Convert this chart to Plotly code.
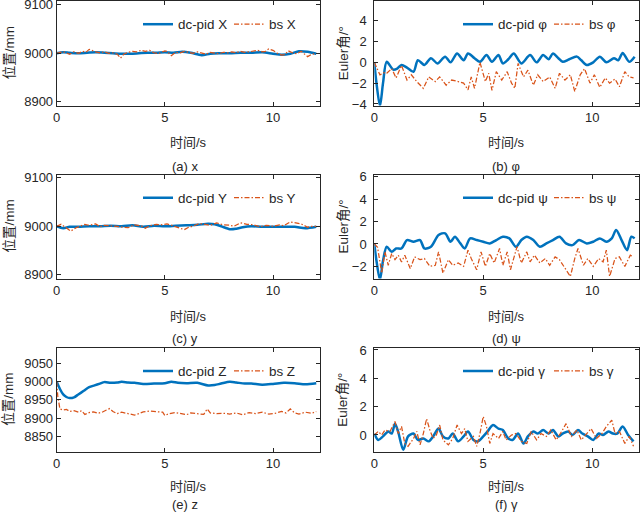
import plotly.graph_objects as go

# ---------------- data ----------------
# (a) x position
t_pid_x = [0, 0.3, 0.6, 1.0, 1.4, 1.8, 2.2, 2.6, 3.0, 3.4, 3.8, 4.2, 4.6, 5.0, 5.4, 5.8, 6.2, 6.7, 7.1, 7.5,
           8.0, 8.5, 9.0, 9.5, 10.0, 10.4, 10.8, 11.2, 11.6, 12.0]
pid_x = [9000, 9002, 9001, 9000, 9001, 9002, 9001, 9000, 8999, 8999, 9000, 9001, 9001, 9002, 9001, 9003, 9001,
         8996, 8999, 9000, 9000, 9001, 9001, 9002, 8999, 8997, 8999, 9004, 9003, 8999]
t_bs_x = [0, 0.3, 0.6, 0.8, 1.0, 1.2, 1.35, 1.5, 1.8, 2.0, 2.2, 2.4, 2.6, 2.8, 2.95, 3.1, 3.3, 3.5, 3.7, 3.9,
          4.1, 4.3, 4.5, 4.7, 4.9, 5.0, 5.1, 5.3, 5.5, 5.7, 5.9, 6.1, 6.3, 6.5, 6.7, 6.9, 7.1, 7.3, 7.5, 7.7,
          7.9, 8.1, 8.3, 8.5, 8.7, 8.9, 9.1, 9.3, 9.5, 9.65, 9.8, 10.0, 10.2, 10.4, 10.55, 10.7, 10.9, 11.1,
          11.3, 11.45, 11.6, 11.8, 12.0]
bs_x = [9000, 9003, 8998, 9003, 9000, 9004, 9002, 9008, 9003, 9001, 9003, 9000, 9001, 8998, 8990, 8998, 9002,
        9004, 9003, 9006, 9004, 9006, 9001, 8999, 9003, 9005, 9004, 8995, 9002, 9001, 9004, 9002, 9000, 9003,
        9000, 8998, 9002, 9001, 8999, 9002, 9001, 9003, 9001, 9004, 9002, 9003, 9004, 9006, 9003, 9004, 9009,
        9006, 9000, 8996, 8997, 9005, 9001, 8999, 9004, 8998, 8993, 8998, 8999]

# (b) phi
t_pid_phi = [0, 0.1, 0.26, 0.4, 0.57, 0.87, 1.05, 1.25, 1.5, 1.8, 2.0, 2.3, 2.6, 2.9, 3.25, 3.5, 3.8, 4.1, 4.3,
             4.6, 4.85, 5.15, 5.4, 5.7, 5.9, 6.15, 6.4, 6.75, 7.15, 7.45, 7.75, 8.0, 8.2, 8.45, 8.65, 8.95,
             9.3, 9.5, 9.75, 10.05, 10.35, 10.65, 11.0, 11.2, 11.4, 11.7, 11.95]
pid_phi = [0, -2.0, -4.2, -2.0, 0.05, -0.7, -0.6, -0.25, -0.5, -0.9, 0.2, -0.25, 0.4, -0.1, 0.55, 0.0, 0.85,
           0.2, 0.85, 0.4, 0.05, 0.7, 0.05, 0.7, -0.1, 0.3, 0.85, -0.1, 0.7, 0.0, 0.7, 0.3, 0.85, 0.4, 0.05,
           0.3, 0.55, 0.2, -0.25, 0.0, 0.55, 0.0, 0.4, 0.2, 0.9, 0.05, 0.55]
t_bs_phi = [0, 0.26, 0.45, 0.57, 0.8, 1.0, 1.25, 1.5, 1.7, 1.95, 2.25, 2.5, 2.8, 3.0, 3.3, 3.55, 3.85, 4.1, 4.3,
            4.45, 4.6, 4.85, 5.1, 5.25, 5.4, 5.6, 5.85, 6.1, 6.3, 6.45, 6.6, 6.85, 7.05, 7.3, 7.5, 7.75, 8.05,
            8.3, 8.5, 8.75, 9.0, 9.2, 9.45, 9.65, 9.9, 10.1, 10.35, 10.6, 10.8, 11.05, 11.25, 11.5, 11.7, 11.9]
bs_phi = [0, -1.2, -1.0, -1.05, -0.6, -1.5, -0.3, -1.7, -1.2, -1.85, -2.5, -1.4, -1.85, -1.4, -2.2, -1.7,
          -1.85, -2.0, -2.65, -1.4, -2.5, 0.0, -1.85, -1.05, -2.7, -0.9, -1.7, -0.9, -2.0, -2.5, -0.1, -1.4,
          -0.75, -2.2, -1.2, -1.85, -1.4, -2.5, -1.05, -1.7, -1.2, -2.8, -1.2, -0.6, -2.0, -1.2, -2.4, -1.5,
          -2.0, -1.6, -2.35, -0.9, -1.4, -1.5]

# (c) y position
t_pid_y = [0, 0.3, 0.6, 1.0, 1.5, 2.0, 2.5, 3.0, 3.5, 4.0, 4.5, 5.0, 5.5, 6.0, 6.5, 7.0, 7.3, 7.6, 8.0, 8.3,
           8.6, 9.0, 9.5, 10.0, 10.5, 11.0, 11.5, 12.0]
pid_y = [9000, 8996, 8999, 8999, 9000, 9000, 9001, 9000, 9002, 8999, 9001, 9000, 9001, 9002, 9003, 9005, 9004,
         9000, 8994, 8995, 8998, 9000, 8999, 8999, 8999, 8999, 8996, 8999]
t_bs_y = [0, 0.2, 0.4, 0.65, 0.9, 1.1, 1.3, 1.5, 1.8, 2.0, 2.2, 2.5, 2.8, 3.0, 3.3, 3.6, 3.9, 4.1, 4.3, 4.6,
          4.9, 5.1, 5.3, 5.6, 5.9, 6.1, 6.3, 6.6, 6.9, 7.1, 7.4, 7.7, 8.0, 8.2, 8.5, 8.8, 9.1, 9.4, 9.7, 10.0,
          10.3, 10.5, 10.8, 11.0, 11.3, 11.6, 11.8, 12.0]
bs_y = [9000, 9004, 8998, 8990, 8997, 9001, 9004, 9002, 9005, 8999, 9002, 9001, 9000, 8998, 8997, 9003, 9001,
        8996, 9001, 9004, 9003, 9005, 9002, 8996, 8993, 8998, 9000, 9006, 9003, 9002, 9007, 9003, 9002, 9000,
        9007, 9004, 9003, 8999, 9002, 9000, 9003, 9001, 9009, 9008, 9005, 8998, 9000, 9000]

# (d) psi
t_pid_psi = [0, 0.1, 0.26, 0.4, 0.57, 0.8, 1.0, 1.25, 1.5, 1.8, 2.1, 2.3, 2.6, 2.95, 3.25, 3.5, 3.7, 3.95, 4.15,
             4.4, 4.7, 5.0, 5.3, 5.6, 5.9, 6.2, 6.5, 6.75, 7.0, 7.3, 7.6, 7.9, 8.2, 8.5, 8.8, 9.1, 9.4, 9.75,
             10.05, 10.35, 10.65, 10.9, 11.1, 11.35, 11.6, 11.8, 11.95]
pid_psi = [0, -1.5, -3.2, -1.5, -0.25, -0.7, -0.4, -0.4, 0.35, 0.2, 0.35, -0.4, -0.25, 0.8, 0.95, 0.2, 0.65,
           0.05, -0.4, 0.5, 0.35, 0.2, 0.05, 0.35, 0.65, 0.5, -0.25, 0.35, 0.65, 0.35, -0.25, 0.05, 0.35, 0.65,
           0.05, -0.1, 0.35, 0.05, 0.2, 0.5, 0.2, 0.5, 1.25, 0.35, -0.55, 0.65, 0.5]
t_bs_psi = [0, 0.15, 0.34, 0.49, 0.64, 0.8, 0.95, 1.1, 1.25, 1.4, 1.65, 1.85, 2.1, 2.3, 2.55, 2.8, 2.95, 3.15,
            3.4, 3.6, 3.85, 4.1, 4.3, 4.45, 4.7, 4.9, 5.1, 5.3, 5.5, 5.75, 5.9, 6.1, 6.25, 6.55, 6.75, 7.0,
            7.15, 7.35, 7.6, 7.85, 8.05, 8.3, 8.5, 8.75, 9.0, 9.2, 9.35, 9.6, 9.8, 10.05, 10.3, 10.5, 10.65,
            10.8, 11.05, 11.25, 11.5, 11.75, 11.9]
bs_psi = [0, -0.3, -2.6, -0.7, -1.9, -0.85, -1.4, -1.0, -1.6, -1.0, -2.2, -1.15, -1.4, -1.3, -2.0, -1.9, -0.7,
          -2.6, -1.4, -1.9, -1.7, -2.0, -0.55, -1.3, -2.3, -0.7, -2.0, -0.85, -1.7, -0.4, -1.9, -0.7, -2.3,
          -0.25, -1.7, -0.7, -1.6, -1.0, -1.7, -1.3, -1.9, -1.15, -1.4, -2.2, -2.9, -1.3, -0.4, -1.9, -1.3,
          -2.0, -1.3, -1.6, -0.55, -2.9, -1.3, -1.15, -2.0, -1.0, -1.15]

# (e) z position
t_pid_z = [0, 0.15, 0.3, 0.45, 0.6, 0.8, 1.0, 1.25, 1.5, 1.75, 2.0, 2.2, 2.5, 2.8, 3.0, 3.3, 3.6, 4.0, 4.5, 5.0,
           5.3, 5.6, 6.0, 6.5, 7.0, 7.3, 7.6, 8.0, 8.3, 8.7, 9.0, 9.5, 10.0, 10.5, 11.0, 11.5, 12.0]
pid_z = [9000, 8980, 8965, 8958, 8955, 8957, 8965, 8975, 8985, 8990, 8995, 8999, 8997, 8998, 9000, 8998, 8997,
         8994, 8995, 8996, 9000, 8997, 8996, 8997, 8990, 8991, 8995, 9000, 8998, 8995, 8995, 8992, 8994, 8997,
         8996, 8993, 8996]
t_bs_z = [0, 0.05, 0.15, 0.3, 0.45, 0.6, 0.8, 1.0, 1.15, 1.3, 1.5, 1.7, 1.9, 2.1, 2.3, 2.45, 2.6, 2.8, 3.0, 3.2,
          3.4, 3.6, 3.8, 4.0, 4.3, 4.6, 4.9, 5.0, 5.2, 5.5, 5.8, 6.0, 6.2, 6.5, 6.8, 6.96, 7.1, 7.4, 7.7, 8.0,
          8.3, 8.6, 8.9, 9.2, 9.5, 9.8, 10.1, 10.4, 10.6, 10.8, 11.0, 11.2, 11.5, 11.8, 12.0]
bs_z = [9000, 8960, 8925, 8922, 8924, 8918, 8920, 8916, 8920, 8910, 8915, 8917, 8913, 8916, 8922, 8926, 8918,
        8912, 8916, 8913, 8911, 8908, 8912, 8917, 8919, 8918, 8916, 8907, 8912, 8915, 8911, 8909, 8914, 8912,
        8910, 8925, 8914, 8912, 8913, 8911, 8914, 8909, 8915, 8912, 8916, 8911, 8913, 8918, 8914, 8925, 8914,
        8911, 8916, 8913, 8918]

# (f) gamma
t_pid_gam = [0, 0.18, 0.4, 0.64, 0.8, 0.95, 1.1, 1.33, 1.55, 1.8, 2.0, 2.25, 2.5, 2.7, 2.95, 3.15, 3.4, 3.6,
             3.85, 4.1, 4.3, 4.55, 4.75, 5.0, 5.2, 5.45, 5.7, 5.9, 6.15, 6.35, 6.6, 6.85, 7.05, 7.3, 7.5, 7.75,
             8.0, 8.2, 8.45, 8.65, 8.9, 9.1, 9.35, 9.55, 9.8, 10.05, 10.3, 10.5, 10.75, 10.95, 11.15, 11.4,
             11.65, 11.9]
pid_gam = [0.1, -0.35, -0.1, 0.25, 0.1, 0.8, 0.2, -1.05, -0.1, 0.1, -0.35, -0.25, -0.45, -0.1, 0.45, -0.1,
           -0.25, 0.1, -0.45, -0.1, 0.25, -0.35, -0.45, -0.1, 0.25, 0.7, 0.45, 0.35, -0.25, -0.35, 0.1, -0.6,
           -0.1, 0.25, 0.1, 0.35, 0.1, 0.35, -0.1, 0.1, 0.25, 0.0, 0.35, 0.1, -0.1, -0.35, 0.1, 0.0, 0.25, 0.1,
           0.1, 0.6, 0.0, -0.45]
t_bs_gam = [0, 0.18, 0.34, 0.49, 0.72, 0.95, 1.1, 1.25, 1.4, 1.55, 1.8, 1.95, 2.1, 2.25, 2.4, 2.55, 2.7, 2.85,
            3.0, 3.15, 3.4, 3.6, 3.8, 4.0, 4.15, 4.3, 4.55, 4.7, 4.85, 5.0, 5.15, 5.3, 5.45, 5.7, 5.9, 6.05,
            6.3, 6.5, 6.75, 7.0, 7.2, 7.45, 7.65, 7.9, 8.1, 8.35, 8.6, 8.8, 9.05, 9.3, 9.5, 9.75, 9.95, 10.2,
            10.45, 10.65, 10.9, 11.05, 11.25, 11.5, 11.7, 11.9]
bs_gam = [0, 0.25, 0.0, 0.35, 0.25, 0.95, 0.1, 0.6, -0.6, -0.8, -0.25, 0.25, -0.7, 0.1, 1.15, 0.35, -0.25, 0.0,
          0.7, -0.35, -0.7, -0.25, 0.7, 0.1, 0.45, -0.45, -0.1, -0.8, 0.1, 1.3, 0.6, -0.6, 0.1, -0.25, 0.25,
          -0.35, 0.0, 0.1, -0.45, -0.6, 0.25, -0.35, 0.1, -0.1, 0.35, -0.35, 0.25, 0.8, -0.1, 0.35, -0.35, 0.1,
          0.45, -0.25, 0.1, 0.6, 1.05, 0.1, 0.25, -0.6, -0.1, -0.8]

legend_pid = ["dc-pid X", "dc-pid φ", "dc-pid Y", "dc-pid ψ", "dc-pid Z", "dc-pid γ"]
legend_bs = ["bs X", "bs φ", "bs Y", "bs ψ", "bs Z", "bs γ"]
subtitles = ["(a) x", "(b) φ", "(c) y", "(d) ψ", "(e) z", "(f) γ"]
y_titles = ["位置/mm", "Euler角/°", "位置/mm", "Euler角/°", "位置/mm", "Euler角/°"]
x_title = "时间/s"
x_ticks = [0, 5, 10]
y_ticks = [[8900, 9000, 9100], [-4, -2, 0, 2, 4], [8900, 9000, 9100],
           [-2, 0, 2, 4, 6], [8850, 8900, 8950, 9000, 9050], [0, 2, 4, 6]]

# ---------------- styling / layout ----------------
W, H = 640, 513
BLUE = "#0072BD"
ORANGE = "#D95319"
AX = "#262626"
FONT = "Liberation Sans, Arial, Noto Sans CJK SC, sans-serif"


def px(x):
    return x / W


def py(y):
    return 1 - y / H


col_px = [(56.7, 319.5), (374.3, 639.0)]
row_px = [(1.0, 105.5), (174.5, 278.5), (347.7, 451.7)]
y_ranges = [[8892, 9108], [-4.15, 5.9], [8892, 9107], [-3.08, 6.2], [8807, 9094], [-1.18, 6.16]]
x_range = [0, 12.15]
xlabel_y = [143, 316.7, 486.7]
sub_y = [166, 338.5, 504.5]
sub_x = [185, 506]
ylab_x = [9, 343]
legend_right = [320, 640]

series = [
    (t_pid_x, pid_x, t_bs_x, bs_x),
    (t_pid_phi, pid_phi, t_bs_phi, bs_phi),
    (t_pid_y, pid_y, t_bs_y, bs_y),
    (t_pid_psi, pid_psi, t_bs_psi, bs_psi),
    (t_pid_z, pid_z, t_bs_z, bs_z),
    (t_pid_gam, pid_gam, t_bs_gam, bs_gam),
]

fig = go.Figure()
layout = dict(
    width=W, height=H, margin=dict(l=0, r=0, t=0, b=0, autoexpand=False),
    paper_bgcolor="white", plot_bgcolor="white",
    font=dict(family=FONT, size=13, color=AX),
    showlegend=True,
)
annotations = []

for i, (tp, vp, tb, vb) in enumerate(series):
    r, c = i // 2, i % 2
    n = "" if i == 0 else str(i + 1)
    xa, ya = "x" + n, "y" + n
    lg = "legend" + n
    fig.add_trace(go.Scatter(x=tp, y=vp, mode="lines", name=legend_pid[i],
                             line=dict(color=BLUE, width=2.5, shape="spline", smoothing=0.8),
                             xaxis=xa, yaxis=ya, legend=lg))
    fig.add_trace(go.Scatter(x=tb, y=vb, mode="lines", name=legend_bs[i],
                             line=dict(color=ORANGE, width=1.25, dash="5px,2px,1.5px,2px"),
                             xaxis=xa, yaxis=ya, legend=lg))
    x0, x1 = col_px[c]
    y0, y1 = row_px[r]
    common = dict(showline=True, linecolor=AX, linewidth=1, mirror="ticks", ticks="inside",
                  ticklen=4, tickwidth=1, tickcolor=AX, showgrid=False, zeroline=False,
                  ticklabeloverflow="allow", automargin=False,
                  tickfont=dict(size=13, color=AX, family=FONT))
    layout["xaxis" + n] = dict(domain=[px(x0), px(x1)], range=x_range, tickvals=x_ticks,
                               anchor=ya, **common)
    layout["yaxis" + n] = dict(domain=[py(y1), py(y0)], range=y_ranges[i], tickvals=y_ticks[i],
                               anchor=xa, ticklabelstandoff=(4 if c == 1 else 0), **common)
    layout[lg] = dict(orientation="h", xanchor="right", yanchor="top",
                      x=px(legend_right[c]), y=py(y0 + 8), bgcolor="rgba(0,0,0,0)",
                      font=dict(size=13.4, color=AX, family=FONT), itemwidth=30,
                      entrywidth=46, entrywidthmode="pixels", tracegroupgap=0)
    xc = (x0 + x1) / 2
    annotations.append(dict(text=x_title, x=px(xc), y=py(xlabel_y[r]), xref="paper",
                            yref="paper", showarrow=False, font=dict(size=13, color=AX),
                            xanchor="center", yanchor="middle"))
    annotations.append(dict(text=subtitles[i], x=px(sub_x[c]), y=py(sub_y[r]), xref="paper",
                            yref="paper", showarrow=False, font=dict(size=13, color=AX),
                            xanchor="center", yanchor="middle"))
    annotations.append(dict(text=y_titles[i], x=px(ylab_x[c]), y=py((y0 + y1) / 2),
                            xref="paper", yref="paper", showarrow=False,
                            font=dict(size=13.5, color=AX),
                            textangle=-90, xanchor="center", yanchor="middle"))

layout["annotations"] = annotations
fig.update_layout(**layout)
fig.write_html("out.html", config={"displayModeBar": False},
               post_script="document.documentElement.style.margin='0';"
                           "document.body.style.margin='0';document.body.style.padding='0';"
                           "document.documentElement.style.overflow='hidden';"
                           "document.body.style.overflow='hidden';"
                           "var gd=document.getElementById('{plot_id}');"
                           "gd.style.position='fixed';gd.style.left='0px';gd.style.top='0px';")
